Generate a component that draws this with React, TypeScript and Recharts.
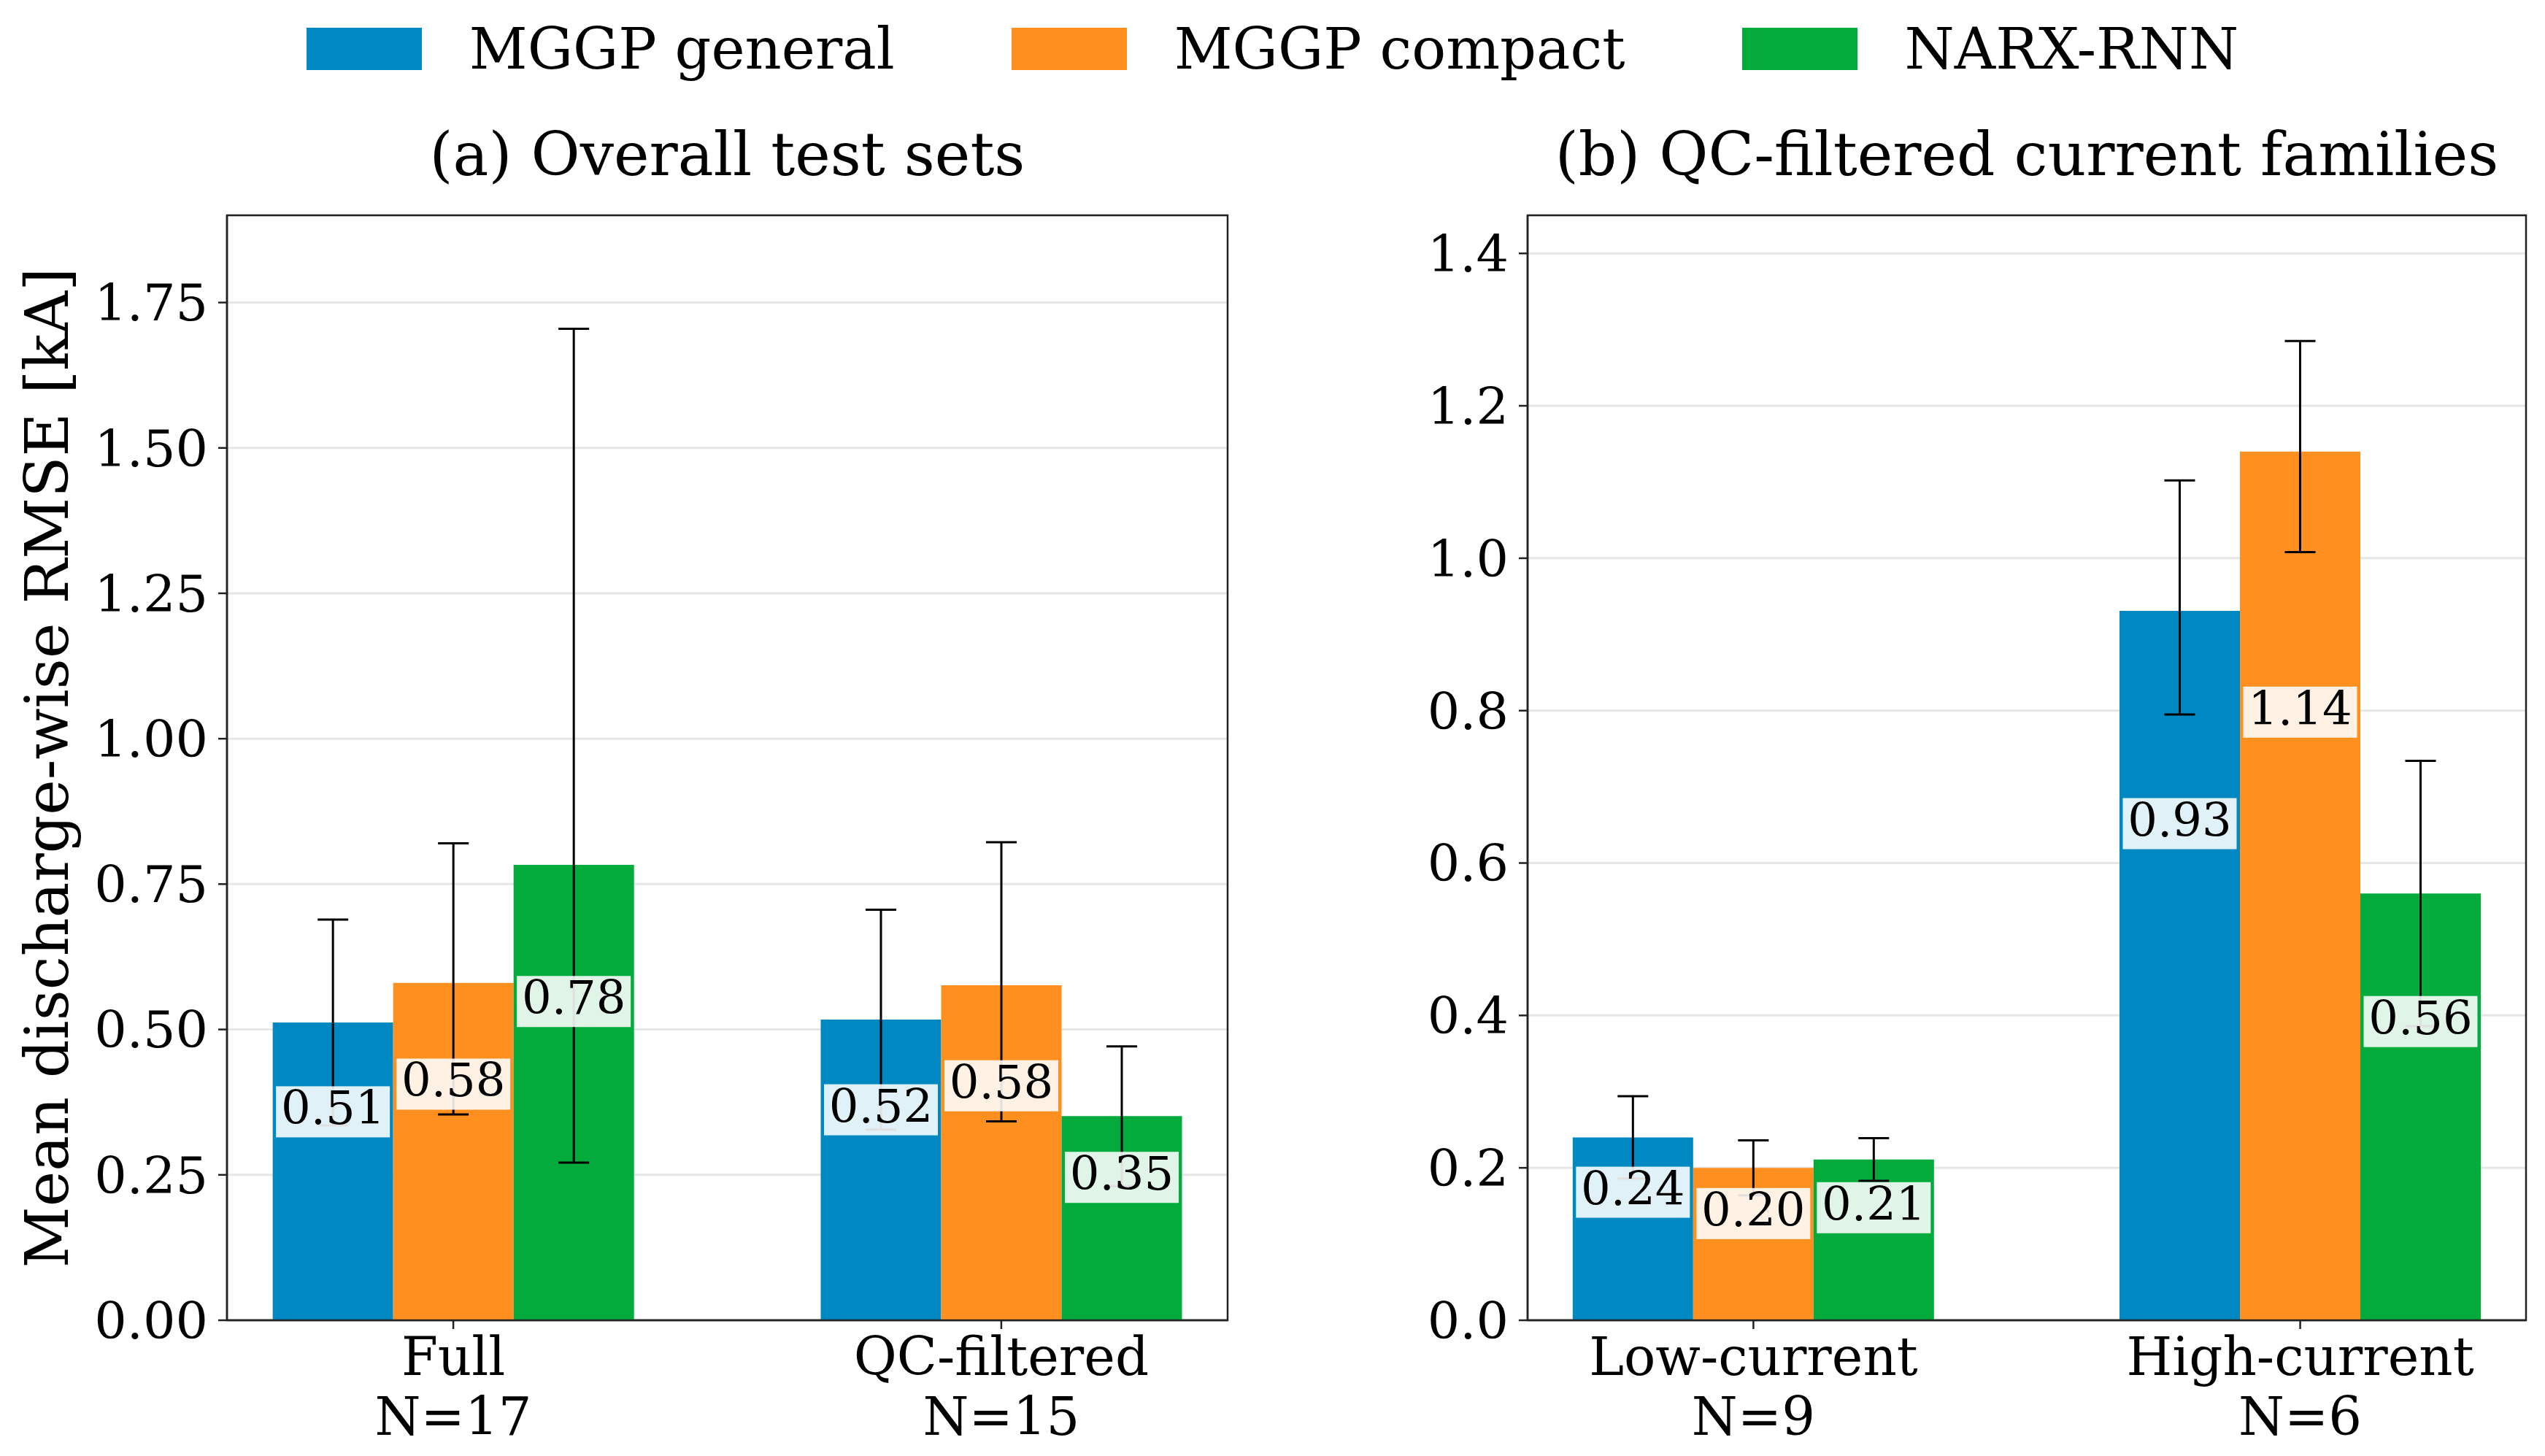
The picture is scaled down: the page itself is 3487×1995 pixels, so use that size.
import React from 'react';
import {
  BarChart,
  Bar,
  XAxis,
  YAxis,
  CartesianGrid,
  ErrorBar,
  LabelList,
  ReferenceArea,
} from 'recharts';

const FONT = 'DejaVu Serif';

const seriesNames = ['MGGP general', 'MGGP compact', 'NARX-RNN'];
const seriesColors = ['#0088c2', '#ff8f1f', '#02ab3c'];

// (a) overall test sets
const overallGroups = ['Full', 'QC-filtered'];
const overallN = [17, 15];
const overallGeneral = [0.512, 0.517];
const overallGeneralLow = [0.335, 0.328];
const overallGeneralHigh = [0.689, 0.706];
const overallCompact = [0.58, 0.576];
const overallCompactLow = [0.354, 0.342];
const overallCompactHigh = [0.82, 0.822];
const overallNarx = [0.783, 0.351];
const overallNarxLow = [0.271, 0.231];
const overallNarxHigh = [1.705, 0.471];
const overallTicks = [0, 0.25, 0.5, 0.75, 1.0, 1.25, 1.5, 1.75];

// (b) QC-filtered current families
const familyGroups = ['Low-current', 'High-current'];
const familyN = [9, 6];
const familyGeneral = [0.24, 0.931];
const familyGeneralLow = [0.186, 0.795];
const familyGeneralHigh = [0.294, 1.102];
const familyCompact = [0.2, 1.14];
const familyCompactLow = [0.164, 1.008];
const familyCompactHigh = [0.236, 1.285];
const familyNarx = [0.211, 0.56];
const familyNarxLow = [0.183, 0.386];
const familyNarxHigh = [0.239, 0.734];
const familyTicks = [0, 0.2, 0.4, 0.6, 0.8, 1.0, 1.2, 1.4];

const X_MIN = -0.413;
const X_MAX = 1.413;

function buildRows(means: number[][], lows: number[][], highs: number[][]) {
  return means[0].map((_, g) => {
    const row: any = { x: g };
    means.forEach((m, s) => {
      row[`s${s}`] = m[g];
      row[`e${s}`] = [m[g] - lows[s][g], highs[s][g] - m[g]];
    });
    return row;
  });
}

const overallRows = buildRows(
  [overallGeneral, overallCompact, overallNarx],
  [overallGeneralLow, overallCompactLow, overallNarxLow],
  [overallGeneralHigh, overallCompactHigh, overallNarxHigh]
);
const familyRows = buildRows(
  [familyGeneral, familyCompact, familyNarx],
  [familyGeneralLow, familyCompactLow, familyNarxLow],
  [familyGeneralHigh, familyCompactHigh, familyNarxHigh]
);

// value box sits at 70% of the bar height
const ValueLabel = (props: any) => {
  const vb = props.viewBox || {};
  const x = Number(props.x ?? vb.x);
  const y = Number(props.y ?? vb.y);
  const w = Number(props.width ?? vb.width);
  const h = Number(props.height ?? vb.height);
  const cx = x + w / 2;
  const cy = y + h * 0.3;
  return (
    <g>
      <rect x={cx - 78} y={cy - 35} width={156} height={70} fill="#fff" fillOpacity={0.88} />
      <text x={cx} y={cy + 17} textAnchor="middle" fontSize={64} fontFamily={FONT} fill="#000">
        {Number(props.value).toFixed(2)}
      </text>
    </g>
  );
};

const YLabel = () => (
  <text
    x={93}
    y={1052}
    transform="rotate(-90, 93, 1052)"
    textAnchor="middle"
    fontSize={82}
    fontFamily={FONT}
    fill="#000"
  >
    Mean discharge-wise RMSE [kA]
  </text>
);

function Panel(props: any) {
  const { rows, groups, ns, yMax, yTicks, digits, chartWidth, marginLeft, marginRight, withLabel } = props;

  const GroupTick = (t: any) => {
    const i = Math.round(t.payload.value);
    return (
      <text x={t.x} y={t.y} textAnchor="middle" fontSize={72} fontFamily={FONT} fill="#000">
        <tspan x={t.x} dy={63}>{groups[i]}</tspan>
        <tspan x={t.x} dy={82}>N={ns[i]}</tspan>
      </text>
    );
  };

  return (
    <BarChart
      width={chartWidth}
      height={1995}
      data={rows}
      margin={{ top: 295, right: marginRight, bottom: 36, left: marginLeft }}
      barGap={0}
      barSize={165}
    >
      <CartesianGrid vertical={false} stroke="#e6e6e6" strokeWidth={3} />
      <XAxis
        type="number"
        dataKey="x"
        domain={[X_MIN, X_MAX]}
        ticks={[0, 1]}
        allowDataOverflow
        height={150}
        tickSize={12}
        tickMargin={0}
        axisLine={{ stroke: '#222', strokeWidth: 2.5 }}
        tickLine={{ stroke: '#222', strokeWidth: 2.5 }}
        tick={GroupTick}
        interval={0}
      />
      <YAxis
        type="number"
        domain={[0, yMax]}
        ticks={yTicks}
        allowDataOverflow
        width={200}
        tickSize={12}
        tickMargin={14}
        axisLine={{ stroke: '#222', strokeWidth: 2.5 }}
        tickLine={{ stroke: '#222', strokeWidth: 2.5 }}
        tick={{ fontSize: 70, fill: '#000', fontFamily: FONT }}
        tickFormatter={(v: number) => v.toFixed(digits)}
        label={withLabel ? { content: YLabel } : undefined}
      />
      {seriesNames.map((name, i) => (
        <Bar key={name} dataKey={`s${i}`} name={name} fill={seriesColors[i]} isAnimationActive={false}>
          <ErrorBar dataKey={`e${i}`} direction="y" width={21} stroke="#000" strokeWidth={3} />
          <LabelList dataKey={`s${i}`} content={ValueLabel} />
        </Bar>
      ))}
      <ReferenceArea
        x1={X_MIN}
        x2={X_MAX}
        y1={0}
        y2={yMax}
        fill="none"
        fillOpacity={0}
        stroke="#222"
        strokeWidth={2.5}
        ifOverflow="visible"
      />
    </BarChart>
  );
}

export default function App() {
  return (
    <div
      style={{
        position: 'absolute',
        left: 0,
        top: 0,
        width: 3487,
        height: 1995,
        background: '#fff',
        fontFamily: FONT,
        color: '#000',
        overflow: 'hidden',
      }}
    >
      {/* legend */}
      <div
        style={{
          position: 'absolute',
          left: 0,
          top: 28,
          width: 3487,
          display: 'flex',
          justifyContent: 'center',
          alignItems: 'center',
          gap: 160,
          fontSize: 78,
          lineHeight: '78px',
          whiteSpace: 'nowrap',
        }}
      >
        {seriesNames.map((name, i) => (
          <div key={name} style={{ display: 'flex', alignItems: 'center', gap: 65 }}>
            <div style={{ width: 158, height: 58, background: seriesColors[i] }} />
            <span>{name}</span>
          </div>
        ))}
      </div>

      {/* panel titles */}
      <div
        style={{
          position: 'absolute',
          left: 311,
          top: 171,
          width: 1371,
          textAlign: 'center',
          fontSize: 82,
          lineHeight: '82px',
          whiteSpace: 'nowrap',
        }}
      >
        (a) Overall test sets
      </div>
      <div
        style={{
          position: 'absolute',
          left: 2093,
          top: 171,
          width: 1368,
          textAlign: 'center',
          fontSize: 82,
          lineHeight: '82px',
          whiteSpace: 'nowrap',
        }}
      >
        (b) QC-filtered current families
      </div>

      <div style={{ position: 'absolute', left: 0, top: 0 }}>
        <Panel
          rows={overallRows}
          groups={overallGroups}
          ns={overallN}
          yMax={1.9}
          yTicks={overallTicks}
          digits={2}
          chartWidth={1750}
          marginLeft={111}
          marginRight={68}
          withLabel
        />
      </div>
      <div style={{ position: 'absolute', left: 1750, top: 0 }}>
        <Panel
          rows={familyRows}
          groups={familyGroups}
          ns={familyN}
          yMax={1.45}
          yTicks={familyTicks}
          digits={1}
          chartWidth={1737}
          marginLeft={143}
          marginRight={26}
        />
      </div>
    </div>
  );
}
